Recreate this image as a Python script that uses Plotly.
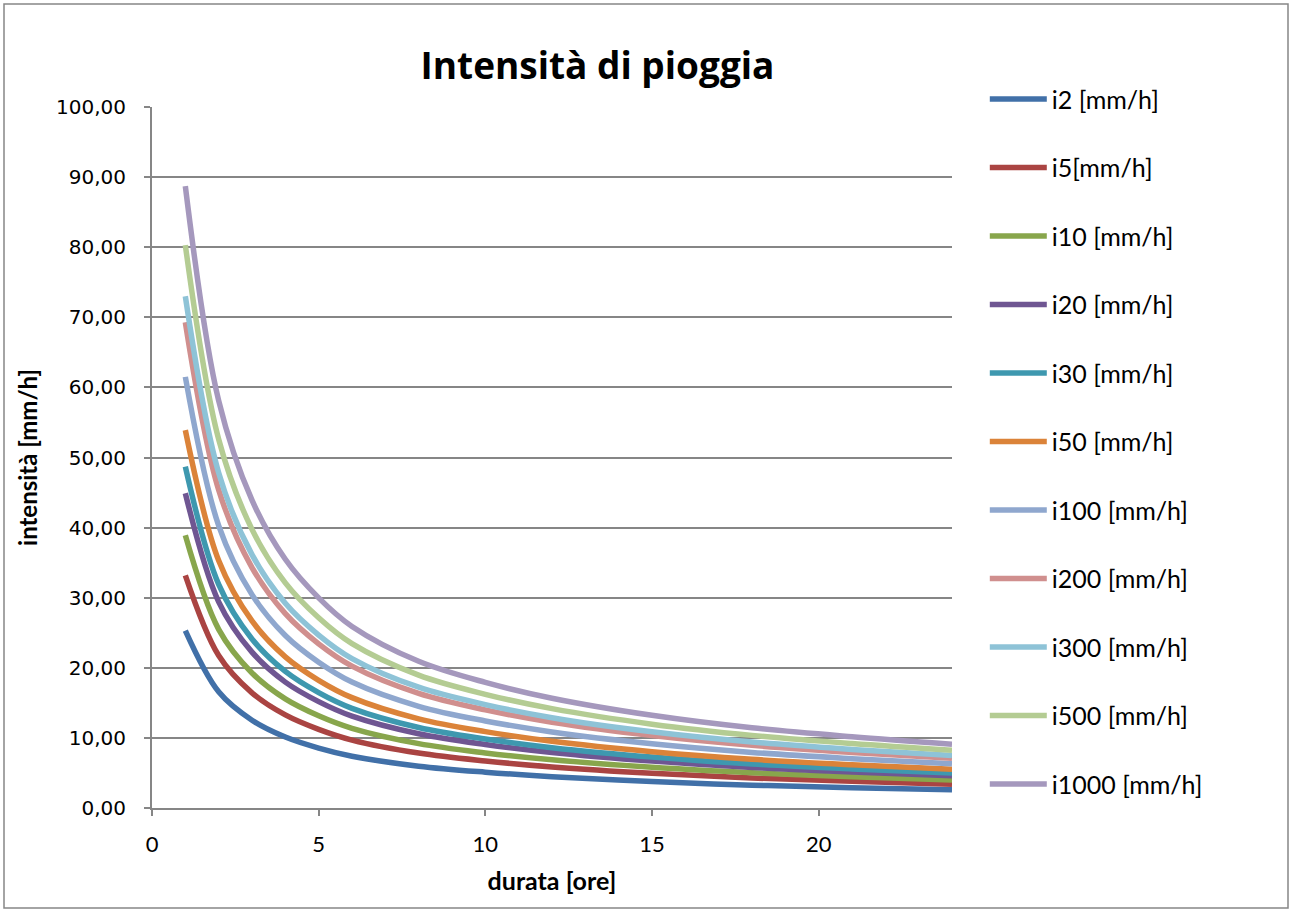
import plotly.graph_objects as go

# durations [hours]
durata = [1, 2, 3, 4, 5, 6, 8, 10, 12, 15, 18, 21, 24]

# rain intensity [mm/h] per return period
i2 = [25.3, 16.57, 12.52, 10.12, 8.55, 7.39, 5.97, 5.11, 4.47, 3.77, 3.26, 2.90, 2.59]
i5 = [33.2, 21.75, 16.43, 13.28, 11.22, 9.69, 7.84, 6.71, 5.86, 4.95, 4.28, 3.80, 3.40]
i10 = [38.9, 25.48, 19.26, 15.56, 13.15, 11.36, 9.18, 7.86, 6.87, 5.80, 5.02, 4.45, 3.99]
i20 = [44.9, 29.41, 22.23, 17.96, 15.18, 13.11, 10.60, 9.07, 7.92, 6.69, 5.79, 5.14, 4.60]
i30 = [48.7, 31.90, 24.11, 19.48, 16.46, 14.22, 11.49, 9.84, 8.60, 7.26, 6.28, 5.58, 4.99]
i50 = [53.9, 35.30, 26.68, 21.56, 18.22, 15.74, 12.72, 10.89, 9.51, 8.03, 6.95, 6.17, 5.52]
i100 = [61.5, 40.28, 30.44, 24.60, 20.79, 17.96, 14.51, 12.42, 10.85, 9.16, 7.93, 7.04, 6.30]
i200 = [69.3, 45.39, 34.30, 27.72, 23.42, 20.24, 16.35, 14.00, 12.23, 10.33, 8.94, 7.93, 7.10]
i300 = [73.0, 47.82, 36.14, 29.20, 24.67, 21.32, 17.23, 14.75, 12.88, 10.88, 9.42, 8.36, 7.48]
i500 = [80.3, 52.60, 39.75, 32.12, 27.14, 23.45, 18.95, 16.22, 14.17, 11.96, 10.36, 9.19, 8.23]
i1000 = [88.7, 58.10, 43.91, 35.48, 29.98, 25.90, 20.93, 17.92, 15.66, 13.22, 11.44, 10.16, 9.09]

names = ["i2 [mm/h]", "i5[mm/h]", "i10 [mm/h]", "i20 [mm/h]", "i30 [mm/h]", "i50 [mm/h]",
         "i100 [mm/h]", "i200 [mm/h]", "i300 [mm/h]", "i500 [mm/h]", "i1000 [mm/h]"]
series = [i2, i5, i10, i20, i30, i50, i100, i200, i300, i500, i1000]
colors = ["#4170A8", "#AA4442", "#88A64C", "#6F5692", "#3E98AF", "#DB8339",
          "#8FA7CE", "#D08F8E", "#8EC3D7", "#B4CC93", "#A598BD"]

x_ticks = [0, 5, 10, 15, 20]

fig = go.Figure()
for k, (nm, ys, c) in enumerate(zip(names, series, colors)):
    fig.add_trace(go.Scatter(
        x=durata, y=ys, name=nm, mode="lines",
        line=dict(color=c, width=5.5, shape="spline", smoothing=1.0),
        legendgroup="g%d" % k,
    ))

fig.update_layout(
    width=1292, height=912,
    margin=dict(l=152, r=340, t=107, b=104),
    paper_bgcolor="white", plot_bgcolor="white",
    separators=",.",
    title=dict(text="<b>Intensità di pioggia</b>", x=597.5 / 1292, xanchor="center",
               y=1 - 66 / 912, yanchor="middle", yref="container",
               font=dict(family="Open Sans", size=37, color="black")),
    showlegend=True,
    legend=dict(x=1.041, xanchor="left", y=1.044, yanchor="top",
                font=dict(family="Lato", size=25, color="black"),
                tracegroupgap=33, itemwidth=57, bgcolor="rgba(0,0,0,0)",
                maxheight=900),
    xaxis=dict(range=[0, 24], tickvals=x_ticks, ticks="outside", ticklen=6,
               tickcolor="#868686", tickwidth=2,
               showline=True, linecolor="#868686", linewidth=2, showgrid=False,
               zeroline=False, ticklabelstandoff=10,
               tickfont=dict(family="Lato", size=22, color="black"),
               title=dict(text="<b>durata [ore]</b>", standoff=16,
                          font=dict(family="Lato", size=25, color="black"))),
    yaxis=dict(range=[0, 100], dtick=10, tickformat=".2f", ticks="outside", ticklen=6,
               tickcolor="#868686", tickwidth=2,
               showline=True, linecolor="#868686", linewidth=2,
               showgrid=True, gridcolor="#868686", gridwidth=2, zeroline=False,
               ticklabelstandoff=14,
               tickfont=dict(family="DejaVu Sans", size=20, color="black"),
               title=dict(text="<b>intensità [mm/h]</b>", standoff=12,
                          font=dict(family="Lato", size=24, color="black"))),
    shapes=[dict(type="rect", xref="paper", yref="paper",
                 x0=(4 - 152) / 800, x1=(1288 - 152) / 800,
                 y0=(808 - 908) / 701, y1=(808 - 4) / 701,
                 line=dict(color="#868686", width=1.5), fillcolor="rgba(0,0,0,0)",
                 layer="below")],
)

fig.write_html("out.html")
